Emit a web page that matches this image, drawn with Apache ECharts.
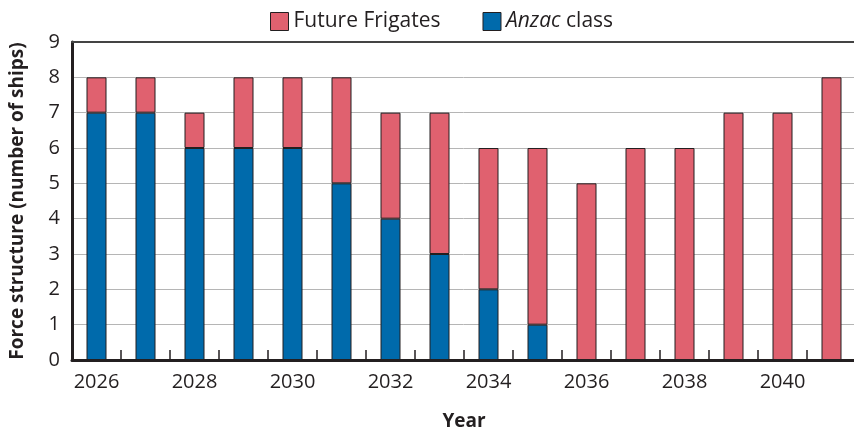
<!DOCTYPE html>
<html>
<head>
<meta charset="utf-8">
<script src="https://cdn.jsdelivr.net/npm/echarts@6/dist/echarts.min.js"></script>
<style>
  html, body { margin: 0; padding: 0; background: #fff; }
  #main { width: 854px; height: 433px; }
</style>
</head>
<body>
<div id="main"></div>
<script>
var years = ['2026', '2027', '2028', '2029', '2030', '2031', '2032', '2033',
    '2034', '2035', '2036', '2037', '2038', '2039', '2040', '2041'];
var anzac = [7, 7, 6, 6, 6, 5, 4, 3, 2, 1, 0, 0, 0, 0, 0, 0];
var future = [1, 1, 1, 2, 2, 3, 3, 4, 4, 5, 5, 6, 6, 7, 7, 8];

var font = 'Open Sans';
var myChart = echarts.init(document.getElementById('main'));
myChart.setOption({
    animation: false,
    textStyle: { fontFamily: font },
    legend: {
        top: 6,
        left: 265,
        icon: 'rect',
        itemWidth: 18,
        itemHeight: 18,
        itemGap: 42,
        data: ['Future Frigates', 'Anzac class'],
        itemStyle: { borderColor: '#231f20', borderWidth: 1 },
        textStyle: {
            fontSize: 21, color: '#231f20',
            rich: { i: { fontStyle: 'italic', fontSize: 21, color: '#231f20' } }
        },
        formatter: function (name) {
            return name === 'Anzac class' ? '{i|Anzac} class' : name;
        }
    },
    grid: { left: 72, right: -2, top: 42, bottom: 73, outerBoundsMode: 'none', containLabel: false },
    xAxis: [
        {
            type: 'category',
            data: years,
            name: 'Year',
            nameLocation: 'middle',
            nameGap: 52,
            nameTextStyle: { fontSize: 19, fontWeight: 'bold', color: '#231f20' },
            axisLine: { lineStyle: { color: '#231f20', width: 3 } },
            axisTick: { show: true, inside: true, length: 10, interval: 0, lineStyle: { color: '#231f20', width: 1.5 } },
            axisLabel: { interval: 1, fontSize: 20, color: '#231f20', margin: 12 }
        },
        {
            type: 'category',
            data: years,
            position: 'top',
            axisLine: { lineStyle: { color: '#444', width: 2 } },
            axisTick: { show: false },
            axisLabel: { show: false }
        }
    ],
    yAxis: {
        type: 'value',
        min: 0,
        max: 9,
        interval: 1,
        name: 'Force structure (number of ships)',
        nameLocation: 'middle',
        nameGap: 45,
        nameTextStyle: { fontSize: 19, fontWeight: 'bold', color: '#231f20' },
        axisLine: { show: true, lineStyle: { color: '#231f20', width: 3 } },
        axisTick: { show: false },
        axisLabel: { fontSize: 20, color: '#231f20', margin: 12 },
        splitLine: { lineStyle: { color: '#b5b5b5', width: 1 } }
    },
    series: [
        {
            name: 'Anzac class',
            type: 'bar',
            stack: 'ships',
            barWidth: 20,
            data: anzac,
            itemStyle: { color: '#006aab', borderColor: '#231f20', borderWidth: 1 }
        },
        {
            name: 'Future Frigates',
            type: 'bar',
            stack: 'ships',
            barWidth: 20,
            data: future,
            itemStyle: { color: '#e0616f', borderColor: '#231f20', borderWidth: 1 }
        }
    ]
});
</script>
</body>
</html>
